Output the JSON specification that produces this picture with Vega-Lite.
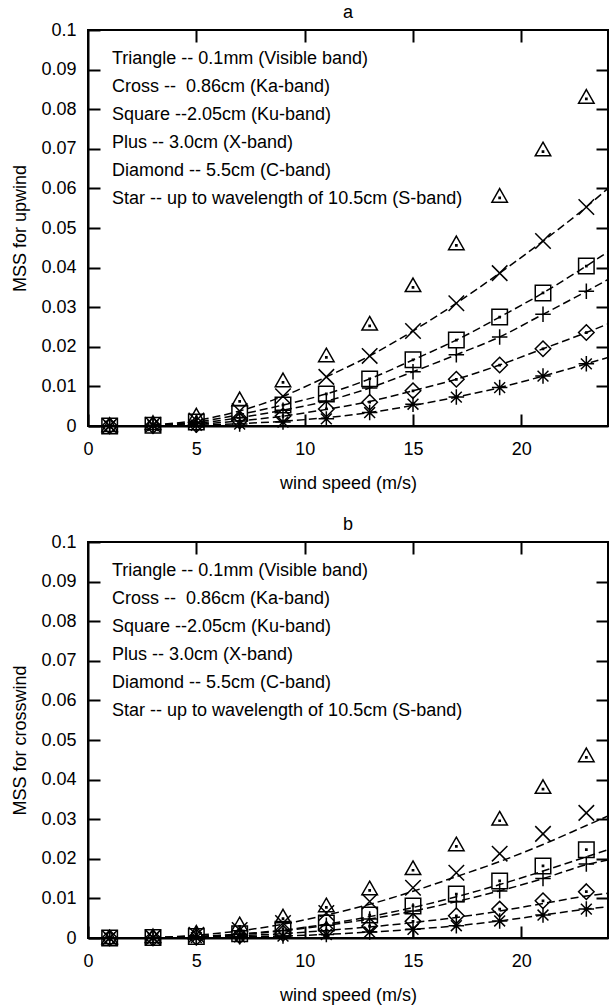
{
  "$schema": "https://vega.github.io/schema/vega-lite/v6.json",
  "padding": {"left": 10, "top": 3, "right": 0, "bottom": 0},
  "spacing": 22,
  "resolve": {"legend": {"shape": "independent"}},
  "config": {
    "font": "Liberation Sans",
    "view": {"stroke": "black", "strokeWidth": 2},
    "axis": {"domainColor": "black", "domainWidth": 2, "tickColor": "black", "tickWidth": 2, "labelColor": "black", "titleColor": "black", "labelFontSize": 18, "titleFontSize": 18, "titleFontWeight": "normal", "grid": false, "labelFont": "Liberation Sans", "titleFont": "Liberation Sans"},
    "title": {"fontSize": 18, "fontWeight": "normal", "offset": -1, "color": "black", "font": "Liberation Sans"},
    "legend": {"labelFontSize": 18, "labelFont": "Liberation Sans", "labelColor": "black", "labelLimit": 600}
  },
  "datasets": {
    "up": [
      {"speed":1,"mss":0.0001,"marker":"Triangle"},{"speed":3,"mss":0.0006,"marker":"Triangle"},{"speed":5,"mss":0.0025,"marker":"Triangle"},{"speed":7,"mss":0.0066,"marker":"Triangle"},{"speed":9,"mss":0.0114,"marker":"Triangle"},{"speed":11,"mss":0.0177,"marker":"Triangle"},{"speed":13,"mss":0.0257,"marker":"Triangle"},{"speed":15,"mss":0.0354,"marker":"Triangle"},{"speed":17,"mss":0.046,"marker":"Triangle"},{"speed":19,"mss":0.058,"marker":"Triangle"},{"speed":21,"mss":0.0697,"marker":"Triangle"},{"speed":23,"mss":0.083,"marker":"Triangle"},
      {"speed":1,"mss":0,"marker":"Cross"},{"speed":3,"mss":0.0003,"marker":"Cross"},{"speed":5,"mss":0.0014,"marker":"Cross"},{"speed":7,"mss":0.0038,"marker":"Cross"},{"speed":9,"mss":0.0075,"marker":"Cross"},{"speed":11,"mss":0.0124,"marker":"Cross"},{"speed":13,"mss":0.0177,"marker":"Cross"},{"speed":15,"mss":0.024,"marker":"Cross"},{"speed":17,"mss":0.031,"marker":"Cross"},{"speed":19,"mss":0.0386,"marker":"Cross"},{"speed":21,"mss":0.0467,"marker":"Cross"},{"speed":23,"mss":0.0553,"marker":"Cross"},
      {"speed":1,"mss":0,"marker":"Square"},{"speed":3,"mss":0.0002,"marker":"Square"},{"speed":5,"mss":0.001,"marker":"Square"},{"speed":7,"mss":0.0032,"marker":"Square"},{"speed":9,"mss":0.0053,"marker":"Square"},{"speed":11,"mss":0.0081,"marker":"Square"},{"speed":13,"mss":0.0119,"marker":"Square"},{"speed":15,"mss":0.0167,"marker":"Square"},{"speed":17,"mss":0.0217,"marker":"Square"},{"speed":19,"mss":0.0275,"marker":"Square"},{"speed":21,"mss":0.0336,"marker":"Square"},{"speed":23,"mss":0.0404,"marker":"Square"},
      {"speed":1,"mss":0,"marker":"Plus"},{"speed":3,"mss":0.0002,"marker":"Plus"},{"speed":5,"mss":0.0007,"marker":"Plus"},{"speed":7,"mss":0.0021,"marker":"Plus"},{"speed":9,"mss":0.004,"marker":"Plus"},{"speed":11,"mss":0.0063,"marker":"Plus"},{"speed":13,"mss":0.0096,"marker":"Plus"},{"speed":15,"mss":0.0137,"marker":"Plus"},{"speed":17,"mss":0.018,"marker":"Plus"},{"speed":19,"mss":0.0225,"marker":"Plus"},{"speed":21,"mss":0.0282,"marker":"Plus"},{"speed":23,"mss":0.034,"marker":"Plus"},
      {"speed":1,"mss":0,"marker":"Diamond"},{"speed":3,"mss":0.0001,"marker":"Diamond"},{"speed":5,"mss":0.0004,"marker":"Diamond"},{"speed":7,"mss":0.0013,"marker":"Diamond"},{"speed":9,"mss":0.0025,"marker":"Diamond"},{"speed":11,"mss":0.0043,"marker":"Diamond"},{"speed":13,"mss":0.006,"marker":"Diamond"},{"speed":15,"mss":0.0089,"marker":"Diamond"},{"speed":17,"mss":0.0118,"marker":"Diamond"},{"speed":19,"mss":0.0154,"marker":"Diamond"},{"speed":21,"mss":0.0195,"marker":"Diamond"},{"speed":23,"mss":0.0236,"marker":"Diamond"},
      {"speed":1,"mss":0,"marker":"Star"},{"speed":3,"mss":0.0001,"marker":"Star"},{"speed":5,"mss":0.0002,"marker":"Star"},{"speed":7,"mss":0.0005,"marker":"Star"},{"speed":9,"mss":0.001,"marker":"Star"},{"speed":11,"mss":0.0018,"marker":"Star"},{"speed":13,"mss":0.0034,"marker":"Star"},{"speed":15,"mss":0.0055,"marker":"Star"},{"speed":17,"mss":0.0073,"marker":"Star"},{"speed":19,"mss":0.0097,"marker":"Star"},{"speed":21,"mss":0.0126,"marker":"Star"},{"speed":23,"mss":0.0157,"marker":"Star"}
    ],
    "upFit": [
      {"speed":3,"mss":0.0003,"marker":"Cross"},{"speed":5,"mss":0.0014,"marker":"Cross"},{"speed":7,"mss":0.0038,"marker":"Cross"},{"speed":9,"mss":0.0075,"marker":"Cross"},{"speed":11,"mss":0.0124,"marker":"Cross"},{"speed":13,"mss":0.0177,"marker":"Cross"},{"speed":15,"mss":0.024,"marker":"Cross"},{"speed":17,"mss":0.031,"marker":"Cross"},{"speed":19,"mss":0.0386,"marker":"Cross"},{"speed":21,"mss":0.0467,"marker":"Cross"},{"speed":23,"mss":0.0553,"marker":"Cross"},{"speed":24,"mss":0.060,"marker":"Cross"},
      {"speed":3,"mss":0.0002,"marker":"Square"},{"speed":5,"mss":0.001,"marker":"Square"},{"speed":7,"mss":0.0029,"marker":"Square"},{"speed":9,"mss":0.0053,"marker":"Square"},{"speed":11,"mss":0.0081,"marker":"Square"},{"speed":13,"mss":0.0119,"marker":"Square"},{"speed":15,"mss":0.0167,"marker":"Square"},{"speed":17,"mss":0.0217,"marker":"Square"},{"speed":19,"mss":0.0275,"marker":"Square"},{"speed":21,"mss":0.0336,"marker":"Square"},{"speed":23,"mss":0.0404,"marker":"Square"},{"speed":24,"mss":0.044,"marker":"Square"},
      {"speed":3,"mss":0.0002,"marker":"Plus"},{"speed":5,"mss":0.0007,"marker":"Plus"},{"speed":7,"mss":0.0021,"marker":"Plus"},{"speed":9,"mss":0.004,"marker":"Plus"},{"speed":11,"mss":0.0063,"marker":"Plus"},{"speed":13,"mss":0.0096,"marker":"Plus"},{"speed":15,"mss":0.0137,"marker":"Plus"},{"speed":17,"mss":0.018,"marker":"Plus"},{"speed":19,"mss":0.0225,"marker":"Plus"},{"speed":21,"mss":0.0282,"marker":"Plus"},{"speed":23,"mss":0.034,"marker":"Plus"},{"speed":24,"mss":0.037,"marker":"Plus"},
      {"speed":3,"mss":0.0001,"marker":"Diamond"},{"speed":5,"mss":0.0004,"marker":"Diamond"},{"speed":7,"mss":0.0013,"marker":"Diamond"},{"speed":9,"mss":0.0025,"marker":"Diamond"},{"speed":11,"mss":0.0042,"marker":"Diamond"},{"speed":13,"mss":0.0062,"marker":"Diamond"},{"speed":15,"mss":0.0089,"marker":"Diamond"},{"speed":17,"mss":0.0118,"marker":"Diamond"},{"speed":19,"mss":0.0154,"marker":"Diamond"},{"speed":21,"mss":0.0195,"marker":"Diamond"},{"speed":23,"mss":0.0236,"marker":"Diamond"},{"speed":24,"mss":0.0258,"marker":"Diamond"},
      {"speed":3,"mss":0.0001,"marker":"Star"},{"speed":5,"mss":0.0002,"marker":"Star"},{"speed":7,"mss":0.0006,"marker":"Star"},{"speed":9,"mss":0.0012,"marker":"Star"},{"speed":11,"mss":0.0021,"marker":"Star"},{"speed":13,"mss":0.0034,"marker":"Star"},{"speed":15,"mss":0.0052,"marker":"Star"},{"speed":17,"mss":0.0073,"marker":"Star"},{"speed":19,"mss":0.0097,"marker":"Star"},{"speed":21,"mss":0.0126,"marker":"Star"},{"speed":23,"mss":0.0157,"marker":"Star"},{"speed":24,"mss":0.0173,"marker":"Star"}
    ],
    "cross": [
      {"speed":1,"mss":0,"marker":"Triangle"},{"speed":3,"mss":0.0003,"marker":"Triangle"},{"speed":5,"mss":0.0012,"marker":"Triangle"},{"speed":7,"mss":0.0033,"marker":"Triangle"},{"speed":9,"mss":0.0053,"marker":"Triangle"},{"speed":11,"mss":0.0081,"marker":"Triangle"},{"speed":13,"mss":0.0124,"marker":"Triangle"},{"speed":15,"mss":0.0175,"marker":"Triangle"},{"speed":17,"mss":0.0235,"marker":"Triangle"},{"speed":19,"mss":0.030,"marker":"Triangle"},{"speed":21,"mss":0.038,"marker":"Triangle"},{"speed":23,"mss":0.046,"marker":"Triangle"},
      {"speed":1,"mss":0,"marker":"Cross"},{"speed":3,"mss":0.0001,"marker":"Cross"},{"speed":5,"mss":0.0008,"marker":"Cross"},{"speed":7,"mss":0.002,"marker":"Cross"},{"speed":9,"mss":0.0038,"marker":"Cross"},{"speed":11,"mss":0.0063,"marker":"Cross"},{"speed":13,"mss":0.0092,"marker":"Cross"},{"speed":15,"mss":0.0127,"marker":"Cross"},{"speed":17,"mss":0.0165,"marker":"Cross"},{"speed":19,"mss":0.0213,"marker":"Cross"},{"speed":21,"mss":0.0263,"marker":"Cross"},{"speed":23,"mss":0.0316,"marker":"Cross"},
      {"speed":1,"mss":0,"marker":"Square"},{"speed":3,"mss":0.0001,"marker":"Square"},{"speed":5,"mss":0.0004,"marker":"Square"},{"speed":7,"mss":0.0011,"marker":"Square"},{"speed":9,"mss":0.0022,"marker":"Square"},{"speed":11,"mss":0.0038,"marker":"Square"},{"speed":13,"mss":0.0058,"marker":"Square"},{"speed":15,"mss":0.0081,"marker":"Square"},{"speed":17,"mss":0.0111,"marker":"Square"},{"speed":19,"mss":0.0144,"marker":"Square"},{"speed":21,"mss":0.0182,"marker":"Square"},{"speed":23,"mss":0.0223,"marker":"Square"},
      {"speed":1,"mss":0,"marker":"Plus"},{"speed":3,"mss":0,"marker":"Plus"},{"speed":5,"mss":0.0003,"marker":"Plus"},{"speed":7,"mss":0.0009,"marker":"Plus"},{"speed":9,"mss":0.0018,"marker":"Plus"},{"speed":11,"mss":0.0032,"marker":"Plus"},{"speed":13,"mss":0.0048,"marker":"Plus"},{"speed":15,"mss":0.0068,"marker":"Plus"},{"speed":17,"mss":0.0092,"marker":"Plus"},{"speed":19,"mss":0.0119,"marker":"Plus"},{"speed":21,"mss":0.015,"marker":"Plus"},{"speed":23,"mss":0.0187,"marker":"Plus"},
      {"speed":1,"mss":0,"marker":"Diamond"},{"speed":3,"mss":0,"marker":"Diamond"},{"speed":5,"mss":0.0002,"marker":"Diamond"},{"speed":7,"mss":0.0006,"marker":"Diamond"},{"speed":9,"mss":0.0012,"marker":"Diamond"},{"speed":11,"mss":0.002,"marker":"Diamond"},{"speed":13,"mss":0.003,"marker":"Diamond"},{"speed":15,"mss":0.0042,"marker":"Diamond"},{"speed":17,"mss":0.0056,"marker":"Diamond"},{"speed":19,"mss":0.0073,"marker":"Diamond"},{"speed":21,"mss":0.0094,"marker":"Diamond"},{"speed":23,"mss":0.0117,"marker":"Diamond"},
      {"speed":1,"mss":0,"marker":"Star"},{"speed":3,"mss":0,"marker":"Star"},{"speed":5,"mss":0.0001,"marker":"Star"},{"speed":7,"mss":0.0003,"marker":"Star"},{"speed":9,"mss":0.0005,"marker":"Star"},{"speed":11,"mss":0.0009,"marker":"Star"},{"speed":13,"mss":0.0015,"marker":"Star"},{"speed":15,"mss":0.0022,"marker":"Star"},{"speed":17,"mss":0.0031,"marker":"Star"},{"speed":19,"mss":0.0043,"marker":"Star"},{"speed":21,"mss":0.0058,"marker":"Star"},{"speed":23,"mss":0.0073,"marker":"Star"}
    ],
    "crossFit": [
      {"speed":3,"mss":0.0001,"marker":"Cross"},{"speed":5,"mss":0.0007,"marker":"Cross"},{"speed":7,"mss":0.0018,"marker":"Cross"},{"speed":9,"mss":0.0035,"marker":"Cross"},{"speed":11,"mss":0.0058,"marker":"Cross"},{"speed":13,"mss":0.0085,"marker":"Cross"},{"speed":15,"mss":0.0118,"marker":"Cross"},{"speed":17,"mss":0.0155,"marker":"Cross"},{"speed":19,"mss":0.0193,"marker":"Cross"},{"speed":21,"mss":0.0236,"marker":"Cross"},{"speed":23,"mss":0.0284,"marker":"Cross"},{"speed":24,"mss":0.0308,"marker":"Cross"},
      {"speed":3,"mss":0.0001,"marker":"Square"},{"speed":5,"mss":0.0004,"marker":"Square"},{"speed":7,"mss":0.001,"marker":"Square"},{"speed":9,"mss":0.002,"marker":"Square"},{"speed":11,"mss":0.0035,"marker":"Square"},{"speed":13,"mss":0.0054,"marker":"Square"},{"speed":15,"mss":0.0077,"marker":"Square"},{"speed":17,"mss":0.0104,"marker":"Square"},{"speed":19,"mss":0.0135,"marker":"Square"},{"speed":21,"mss":0.0169,"marker":"Square"},{"speed":23,"mss":0.0205,"marker":"Square"},{"speed":24,"mss":0.0223,"marker":"Square"},
      {"speed":3,"mss":0,"marker":"Plus"},{"speed":5,"mss":0.0003,"marker":"Plus"},{"speed":7,"mss":0.0009,"marker":"Plus"},{"speed":9,"mss":0.0018,"marker":"Plus"},{"speed":11,"mss":0.0032,"marker":"Plus"},{"speed":13,"mss":0.0048,"marker":"Plus"},{"speed":15,"mss":0.0068,"marker":"Plus"},{"speed":17,"mss":0.0092,"marker":"Plus"},{"speed":19,"mss":0.0119,"marker":"Plus"},{"speed":21,"mss":0.015,"marker":"Plus"},{"speed":23,"mss":0.0185,"marker":"Plus"},{"speed":24,"mss":0.0197,"marker":"Plus"},
      {"speed":3,"mss":0,"marker":"Diamond"},{"speed":5,"mss":0.0002,"marker":"Diamond"},{"speed":7,"mss":0.0006,"marker":"Diamond"},{"speed":9,"mss":0.0011,"marker":"Diamond"},{"speed":11,"mss":0.0019,"marker":"Diamond"},{"speed":13,"mss":0.0028,"marker":"Diamond"},{"speed":15,"mss":0.0039,"marker":"Diamond"},{"speed":17,"mss":0.0052,"marker":"Diamond"},{"speed":19,"mss":0.0068,"marker":"Diamond"},{"speed":21,"mss":0.0087,"marker":"Diamond"},{"speed":23,"mss":0.0106,"marker":"Diamond"},{"speed":24,"mss":0.0113,"marker":"Diamond"},
      {"speed":3,"mss":0,"marker":"Star"},{"speed":5,"mss":0.0001,"marker":"Star"},{"speed":7,"mss":0.0003,"marker":"Star"},{"speed":9,"mss":0.0005,"marker":"Star"},{"speed":11,"mss":0.0009,"marker":"Star"},{"speed":13,"mss":0.0015,"marker":"Star"},{"speed":15,"mss":0.0022,"marker":"Star"},{"speed":17,"mss":0.0031,"marker":"Star"},{"speed":19,"mss":0.0043,"marker":"Star"},{"speed":21,"mss":0.0058,"marker":"Star"},{"speed":23,"mss":0.0073,"marker":"Star"},{"speed":24,"mss":0.0079,"marker":"Star"}
    ]
  },
  "vconcat": [
    {
      "title": "a",
      "width": 520,
      "height": 396,
      "resolve": {"axis": {"x": "independent", "y": "independent"}},
      "layer": [
        {
          "data": {"name": "up"},
          "mark": {"type": "point", "filled": false, "stroke": "black", "strokeWidth": 1.5, "size": 240, "opacity": 1},
          "encoding": {
            "x": {"field": "speed", "type": "quantitative", "scale": {"domain": [0, 24], "nice": false, "zero": false}, "axis": {"title": "wind speed (m/s)", "values": [0, 5, 10, 15, 20], "tickSize": -12, "labelPadding": 26, "titlePadding": 16, "labelFlush": false}},
            "y": {"field": "mss", "type": "quantitative", "scale": {"domain": [0, 0.1], "nice": false}, "axis": {"title": "MSS for upwind", "values": [0, 0.01, 0.02, 0.03, 0.04, 0.05, 0.06, 0.07, 0.08, 0.09, 0.1], "format": "~g", "tickSize": -12, "labelPadding": 24, "titlePadding": 11, "labelFlush": false}},
            "shape": {"field": "marker", "type": "nominal",
              "scale": {"domain": ["Triangle", "Cross", "Square", "Plus", "Diamond", "Star"],
                "range": ["M0,-1L1,0.75L-1,0.75Z M-0.08,0.12L0.08,0.12L0.08,0.28L-0.08,0.28Z", "M-1,-1L1,1M-1,1L1,-1", "M-1,-1L1,-1L1,1L-1,1Z M-0.08,-0.08L0.08,-0.08L0.08,0.08L-0.08,0.08Z", "M-1,0L1,0M0,-1L0,1", "M0,-1L1,0L0,1L-1,0Z M-0.08,-0.08L0.08,-0.08L0.08,0.08L-0.08,0.08Z", "M-1,0L1,0M0,-1L0,1M-0.7,-0.7L0.7,0.7M-0.7,0.7L0.7,-0.7"]},
              "legend": {"orient": "top-left", "title": null, "offset": 20, "padding": 0, "symbolOpacity": 0, "symbolSize": 0, "symbolStrokeWidth": 0, "labelOffset": -14, "rowPadding": 10, "labelLimit": 600, "labelExpr": "datum.label == 'Triangle' ? 'Triangle -- 0.1mm (Visible band)' : datum.label == 'Cross' ? 'Cross --\u00a0 0.86cm (Ka-band)' : datum.label == 'Square' ? 'Square --2.05cm (Ku-band)' : datum.label == 'Plus' ? 'Plus -- 3.0cm (X-band)' : datum.label == 'Diamond' ? 'Diamond -- 5.5cm (C-band)' : 'Star -- up to wavelength of 10.5cm (S-band)'"}
            }
          }
        },
        {
          "data": {"name": "upFit"},
          "mark": {"type": "line", "interpolate": "monotone", "stroke": "black", "strokeWidth": 1.5, "strokeDash": [8, 4], "clip": true},
          "encoding": {
            "x": {"field": "speed", "type": "quantitative", "scale": {"domain": [0, 24], "nice": false, "zero": false}, "axis": {"orient": "top", "labels": false, "title": null, "domain": false, "values": [5, 10, 15, 20], "tickSize": -12}},
            "y": {"field": "mss", "type": "quantitative", "scale": {"domain": [0, 0.1], "nice": false}, "axis": {"orient": "right", "labels": false, "title": null, "domain": false, "values": [0.01, 0.02, 0.03, 0.04, 0.05, 0.06, 0.07, 0.08, 0.09], "tickSize": -12}},
            "detail": {"field": "marker", "type": "nominal"}
          }
        }
      ]
    },
    {
      "title": "b",
      "width": 520,
      "height": 396,
      "resolve": {"axis": {"x": "independent", "y": "independent"}},
      "layer": [
        {
          "data": {"name": "cross"},
          "mark": {"type": "point", "filled": false, "stroke": "black", "strokeWidth": 1.5, "size": 240, "opacity": 1},
          "encoding": {
            "x": {"field": "speed", "type": "quantitative", "scale": {"domain": [0, 24], "nice": false, "zero": false}, "axis": {"title": "wind speed (m/s)", "values": [0, 5, 10, 15, 20], "tickSize": -12, "labelPadding": 26, "titlePadding": 16, "labelFlush": false}},
            "y": {"field": "mss", "type": "quantitative", "scale": {"domain": [0, 0.1], "nice": false}, "axis": {"title": "MSS for crosswind", "values": [0, 0.01, 0.02, 0.03, 0.04, 0.05, 0.06, 0.07, 0.08, 0.09, 0.1], "format": "~g", "tickSize": -12, "labelPadding": 24, "titlePadding": 11, "labelFlush": false}},
            "shape": {"field": "marker", "type": "nominal",
              "scale": {"domain": ["Triangle", "Cross", "Square", "Plus", "Diamond", "Star"],
                "range": ["M0,-1L1,0.75L-1,0.75Z M-0.08,0.12L0.08,0.12L0.08,0.28L-0.08,0.28Z", "M-1,-1L1,1M-1,1L1,-1", "M-1,-1L1,-1L1,1L-1,1Z M-0.08,-0.08L0.08,-0.08L0.08,0.08L-0.08,0.08Z", "M-1,0L1,0M0,-1L0,1", "M0,-1L1,0L0,1L-1,0Z M-0.08,-0.08L0.08,-0.08L0.08,0.08L-0.08,0.08Z", "M-1,0L1,0M0,-1L0,1M-0.7,-0.7L0.7,0.7M-0.7,0.7L0.7,-0.7"]},
              "legend": {"orient": "top-left", "title": null, "offset": 20, "padding": 0, "symbolOpacity": 0, "symbolSize": 0, "symbolStrokeWidth": 0, "labelOffset": -14, "rowPadding": 10, "labelLimit": 600, "labelExpr": "datum.label == 'Triangle' ? 'Triangle -- 0.1mm (Visible band)' : datum.label == 'Cross' ? 'Cross --\u00a0 0.86cm (Ka-band)' : datum.label == 'Square' ? 'Square --2.05cm (Ku-band)' : datum.label == 'Plus' ? 'Plus -- 3.0cm (X-band)' : datum.label == 'Diamond' ? 'Diamond -- 5.5cm (C-band)' : 'Star -- up to wavelength of 10.5cm (S-band)'"}
            }
          }
        },
        {
          "data": {"name": "crossFit"},
          "mark": {"type": "line", "interpolate": "monotone", "stroke": "black", "strokeWidth": 1.5, "strokeDash": [8, 4], "clip": true},
          "encoding": {
            "x": {"field": "speed", "type": "quantitative", "scale": {"domain": [0, 24], "nice": false, "zero": false}, "axis": {"orient": "top", "labels": false, "title": null, "domain": false, "values": [5, 10, 15, 20], "tickSize": -12}},
            "y": {"field": "mss", "type": "quantitative", "scale": {"domain": [0, 0.1], "nice": false}, "axis": {"orient": "right", "labels": false, "title": null, "domain": false, "values": [0.01, 0.02, 0.03, 0.04, 0.05, 0.06, 0.07, 0.08, 0.09], "tickSize": -12}},
            "detail": {"field": "marker", "type": "nominal"}
          }
        }
      ]
    }
  ]
}
